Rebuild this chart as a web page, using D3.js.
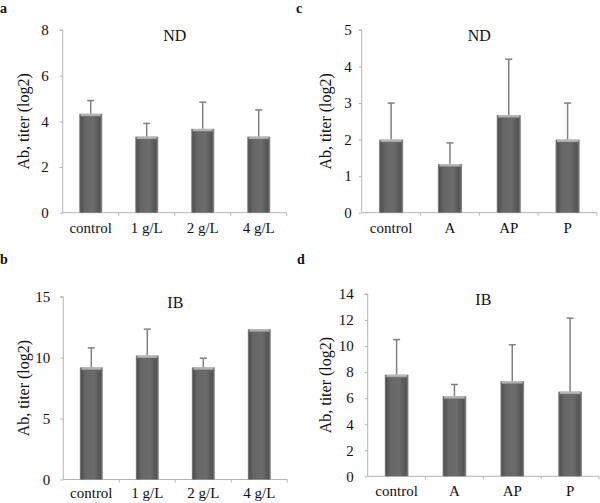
<!DOCTYPE html>
<html><head><meta charset="utf-8">
<script src="https://cdn.jsdelivr.net/npm/d3@7"></script>
<style>
html,body{margin:0;padding:0;background:#fff;}
svg{display:block;}
text{font-family:"Liberation Serif","DejaVu Serif",serif;fill:#111;}
</style></head>
<body>
<svg id="c" width="600" height="503"></svg>
<script>
// ---- data ----
const catsDose = ["control", "1 g/L", "2 g/L", "4 g/L"];
const catsTreat = ["control", "A", "AP", "P"];
const aValues = [4.33, 3.33, 3.67, 3.33];
const aErrors = [0.58, 0.58, 1.17, 1.17];
const bValues = [9.2, 10.17, 9.2, 12.33];
const bErrors = [1.6, 2.17, 0.75, 0];
const cValues = [2, 1.33, 2.67, 2];
const cErrors = [1, 0.58, 1.53, 1];
const dValues = [7.8, 6.15, 7.3, 6.5];
const dErrors = [2.7, 0.9, 2.8, 5.65];
const aTicks = [0, 2, 4, 6, 8];
const bTicks = [0, 5, 10, 15];
const cTicks = [0, 1, 2, 3, 4, 5];
const dTicks = [0, 2, 4, 6, 8, 10, 12, 14];
const yTitle = "Ab, titer (log2)";

const panels = [
  {letter:"a", lx:0, ly:13, title:"ND", cats:catsDose, vals:aValues, errs:aErrors, ticks:aTicks,
   x0:62.7, x1:286.7, yT:30, y0:212.7, tickGap:14, titleX:24, xPad:10},
  {letter:"c", lx:296, ly:13, title:"ND", cats:catsTreat, vals:cValues, errs:cErrors, ticks:cTicks,
   x0:361.7, x1:597, yT:30, y0:212.7, tickGap:10, titleX:326, xPad:10},
  {letter:"b", lx:0, ly:264, title:"IB", cats:catsDose, vals:bValues, errs:bErrors, ticks:bTicks,
   x0:63.3, x1:287.3, yT:296.7, y0:479.5, tickGap:13, titleX:24, xPad:8},
  {letter:"d", lx:297, ly:264, title:"IB", cats:catsTreat, vals:dValues, errs:dErrors, ticks:dTicks,
   x0:367.7, x1:599, yT:294, y0:476.3, tickGap:14, titleX:326, xPad:9}
];

const svg = d3.select("#c");
const defs = svg.append("defs");
const g1 = defs.append("linearGradient").attr("id","barG").attr("x1","0").attr("x2","1").attr("y1","0").attr("y2","0");
[["0%","#8c8c8c"],["7%","#515151"],["25%","#666"],["60%","#6c6c6c"],["90%","#545454"],["100%","#8a8a8a"]]
  .forEach(s=>g1.append("stop").attr("offset",s[0]).attr("stop-color",s[1]));
const g2 = defs.append("linearGradient").attr("id","topG").attr("x1","0").attr("x2","0").attr("y1","0").attr("y2","1");
[["0%","#c8c8c8"],["60%","#a8a8a8"],["100%","#6a6a6a"]]
  .forEach(s=>g2.append("stop").attr("offset",s[0]).attr("stop-color",s[1]));

const axisCol = "#b4b4b4";

panels.forEach(p=>{
  const g = svg.append("g");
  const yMax = p.ticks[p.ticks.length-1];
  const y = d3.scaleLinear().domain([0,yMax]).range([p.y0,p.yT]);
  const x = d3.scaleBand().domain(p.cats).range([p.x0,p.x1]).paddingInner(0.59).paddingOuter(0.295);

  // panel letter
  svg.append("text").attr("x",p.lx).attr("y",p.ly).attr("font-weight","bold").attr("font-size",14).text(p.letter);

  // y axis
  const ya = g.append("g").attr("transform",`translate(${p.x0},0)`)
    .call(d3.axisLeft(y).tickValues(p.ticks).tickSize(3).tickPadding(p.tickGap-3).tickFormat(d3.format("d")));
  ya.attr("font-family",null);
  ya.select(".domain").attr("stroke",axisCol).attr("d",`M-3,${p.yT}H0V${p.y0}`);
  ya.selectAll(".tick line").attr("stroke",axisCol);
  ya.selectAll(".tick text").attr("font-size",15).attr("fill","#111");

  // x axis
  const xa = g.append("g").attr("transform",`translate(0,${p.y0})`)
    .call(d3.axisBottom(x).tickSize(0).tickPadding(p.xPad));
  xa.attr("font-family",null);
  xa.select(".domain").attr("stroke",axisCol).attr("d",`M${p.x0},0H${p.x1}`);
  xa.selectAll(".tick text").attr("font-size",15).attr("fill","#111");
  // boundary ticks
  const step = x.step();
  g.selectAll(null).data(d3.range(1,p.cats.length+1)).join("line")
    .attr("x1",i=>p.x0+i*step).attr("x2",i=>p.x0+i*step)
    .attr("y1",p.y0).attr("y2",p.y0+3).attr("stroke",axisCol);

  // error bars (upper only)
  const data = p.cats.map((c,i)=>({c, v:p.vals[i], e:p.errs[i]}));
  const cx = d=>x(d.c)+x.bandwidth()/2;
  g.selectAll(null).data(data.filter(d=>d.e>0)).join("line")
    .attr("x1",cx).attr("x2",cx).attr("y1",d=>y(d.v)).attr("y2",d=>y(d.v+d.e))
    .attr("stroke","#808080").attr("stroke-width",1.5);
  g.selectAll(null).data(data.filter(d=>d.e>0)).join("line")
    .attr("x1",d=>cx(d)-3.5).attr("x2",d=>cx(d)+3.5).attr("y1",d=>y(d.v+d.e)).attr("y2",d=>y(d.v+d.e))
    .attr("stroke","#808080").attr("stroke-width",1.5);

  // bars
  g.selectAll(null).data(data).join("rect")
    .attr("x",d=>x(d.c)).attr("width",x.bandwidth())
    .attr("y",d=>y(d.v)).attr("height",d=>p.y0-y(d.v))
    .attr("fill","url(#barG)");
  g.selectAll(null).data(data).join("rect")
    .attr("x",d=>x(d.c)+1.5).attr("width",x.bandwidth()-3)
    .attr("y",d=>y(d.v)).attr("height",3)
    .attr("fill","url(#topG)");

  // panel title
  g.append("text").attr("x",(p.x0+p.x1)/2).attr("y",p.yT+11).attr("text-anchor","middle")
    .attr("font-size",16).text(p.title);

  // y title
  const ym = (p.yT+p.y0)/2;
  g.append("text").attr("transform",`translate(${p.titleX+5},${ym}) rotate(-90)`)
    .attr("text-anchor","middle").attr("font-size",16).text(yTitle);
});
</script>
</body></html>
